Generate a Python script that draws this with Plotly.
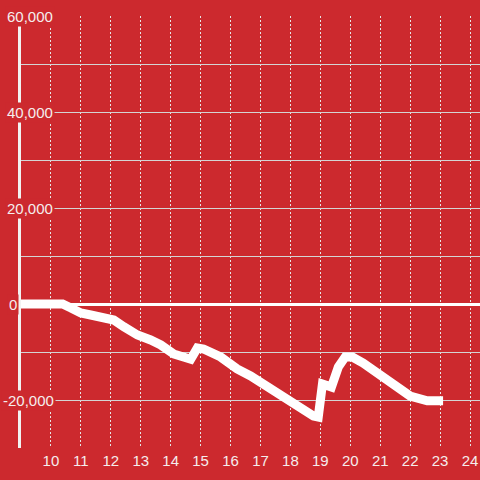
import plotly.graph_objects as go

# series
hours = [9, 10.39, 10.67, 11.0, 11.33, 11.77, 12.1, 12.43, 12.89, 13.33, 13.67, 14.1,
         14.56, 14.67, 14.89, 15.1, 15.67, 16.22, 16.67, 17.33, 17.89, 18.43, 18.77,
         18.93, 19.07, 19.37, 19.6, 19.83, 20.07, 20.43, 21.0, 21.33, 22.0, 22.57, 23.1]
values = [0, 0, -833, -1875, -2290, -2917, -3333, -4730, -6460, -7500, -8540, -10420,
          -11500, -11500, -9170, -9375, -11040, -13540, -15000, -17700, -19800, -22080, -23330,
          -23540, -16670, -17300, -13125, -11040, -11040, -12290, -15000, -16250, -19170, -20150, -20150]

x_ticks = list(range(10, 25))
y_grid = list(range(-30000, 60001, 10000))
y_labels = [60000, 40000, 20000, 0, -20000]

BG = "#cc292e"
TXT = "#f5eded"
FONT = "Liberation Sans, Arial"

fig = go.Figure(
    go.Scatter(x=hours, y=values, mode="lines",
               line=dict(color="white", width=9), hoverinfo="skip")
)

annotations = []
for v in y_labels:
    shift = -20 if v < 0 else (-14 if v == 0 else -16)
    annotations.append(dict(
        x=0, xref="paper", y=v, yref="y", text=f"{v:,}", showarrow=False,
        xanchor="left", yanchor="middle", xshift=shift,
        font=dict(color=TXT, size=15, family=FONT),
        bgcolor=BG, borderpad=1,
    ))

fig.update_layout(
    width=480, height=480,
    paper_bgcolor=BG, plot_bgcolor=BG,
    margin=dict(l=21, r=0, t=16, b=32),
    showlegend=False,
    annotations=annotations,
    xaxis=dict(
        range=[9, 24 + 10 / 30], tickvals=x_ticks, showgrid=True,
        gridcolor="#e6e6e6", griddash="2px,2px", gridwidth=1,
        zeroline=False, showline=False, ticks="", ticklabelstandoff=2,
        tickfont=dict(color=TXT, size=15, family=FONT),
    ),
    yaxis=dict(
        range=[-30000, 60000], tickvals=y_grid, showticklabels=False,
        showgrid=True, gridcolor="#d4d4d4", gridwidth=1,
        zeroline=True, zerolinecolor="white", zerolinewidth=3,
        showline=True, linecolor="#f2f2f2", linewidth=3, ticks="",
    ),
)

fig.write_html(
    "out.html",
    config={"displayModeBar": False},
    post_script="document.body.style.margin='0';document.body.style.overflow='hidden';",
)
